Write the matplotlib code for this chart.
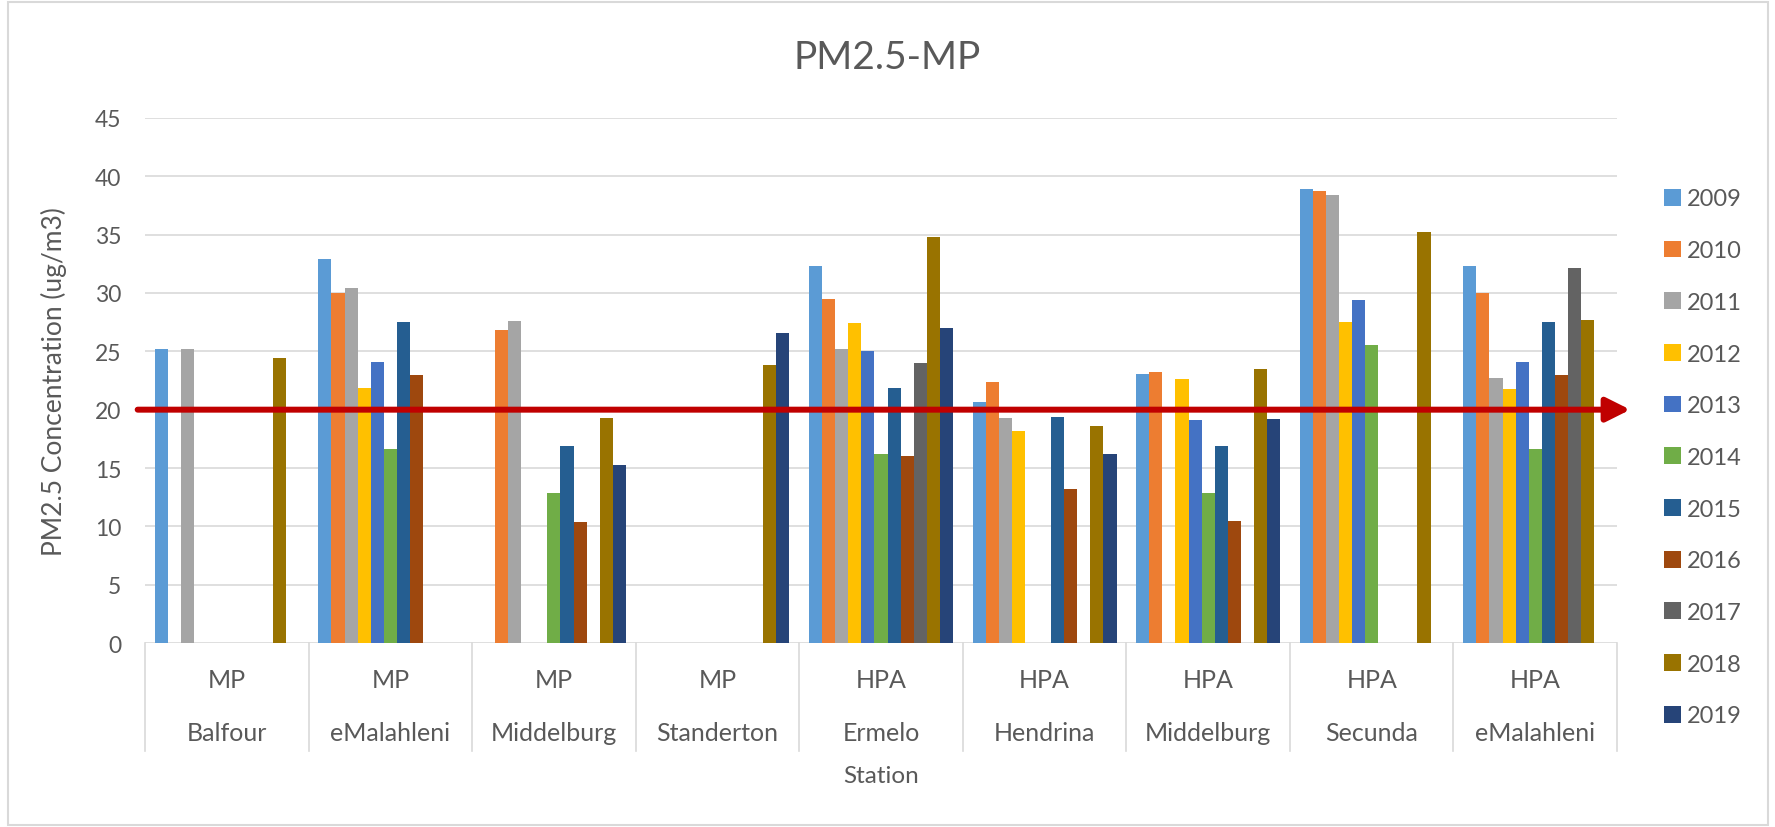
import numpy as np
import matplotlib
matplotlib.use('Agg')
from matplotlib import pyplot as plt
from matplotlib.patches import Patch, Rectangle

nan = np.nan

grupos = ['MP', 'MP', 'MP', 'MP', 'HPA', 'HPA', 'HPA', 'HPA', 'HPA']
estacoes = ['Balfour', 'eMalahleni', 'Middelburg', 'Standerton', 'Ermelo',
            'Hendrina', 'Middelburg', 'Secunda', 'eMalahleni']
anos = ['2009', '2010', '2011', '2012', '2013', '2014', '2015', '2016',
        '2017', '2018', '2019']

v2009 = [25.2, 32.9, nan, nan, 32.3, 20.7, 23.1, 38.9, 32.3]
v2010 = [nan, 30.0, 26.8, nan, 29.5, 22.4, 23.2, 38.7, 30.0]
v2011 = [25.2, 30.4, 27.6, nan, 25.2, 19.3, nan, 38.4, 22.7]
v2012 = [nan, 21.9, nan, nan, 27.4, 18.2, 22.6, 27.5, 21.8]
v2013 = [nan, 24.1, nan, nan, 25.0, nan, 19.1, 29.4, 24.1]
v2014 = [nan, 16.6, 12.9, nan, 16.2, nan, 12.9, 25.5, 16.6]
v2015 = [nan, 27.5, 16.9, nan, 21.9, 19.4, 16.9, nan, 27.5]
v2016 = [nan, 23.0, 10.4, nan, 16.0, 13.2, 10.5, nan, 23.0]
v2017 = [nan, nan, nan, nan, 24.0, nan, nan, nan, 32.1]
v2018 = [24.4, nan, 19.3, 23.8, 34.8, 18.6, 23.5, 35.2, 27.7]
v2019 = [nan, nan, 15.3, 26.6, 27.0, 16.2, 19.2, nan, nan]

limite = 20

series = [v2009, v2010, v2011, v2012, v2013, v2014, v2015, v2016,
          v2017, v2018, v2019]
cores = ['#5B9BD5', '#ED7D31', '#A5A5A5', '#FFC000', '#4472C4', '#70AD47',
         '#255E91', '#9E480E', '#636363', '#997300', '#264478']

cinza_txt = '#595959'
cinza_grade = '#D9D9D9'

plt.rcParams['font.family'] = ['Lato', 'DejaVu Sans']

fig = plt.figure(figsize=(17.75, 8.28), dpi=100)
ax = fig.add_axes([0.0817, 0.2222, 0.8293, 0.6341])

x = np.arange(len(estacoes))
larg = 0.08
n = len(series)
for i, (vals, cor) in enumerate(zip(series, cores)):
    desloc = (i - (n - 1) / 2) * larg
    ax.bar(x + desloc, vals, width=larg, color=cor, label=anos[i], zorder=2)

ax.set_ylim(0, 45)
ax.set_xlim(-0.5, len(estacoes) - 0.5)
ax.set_yticks(range(0, 46, 5))
ax.yaxis.grid(True, color=cinza_grade, linewidth=1.2, zorder=0)
ax.set_axisbelow(True)
for s in ax.spines.values():
    s.set_visible(False)
ax.set_xticks([])
ax.tick_params(axis='y', length=0, pad=17, labelsize=16.5, labelcolor=cinza_txt)

# eixo de categorias em dois niveis
trans = ax.get_xaxis_transform()
for b in np.arange(-0.5, len(estacoes), 1.0):
    ax.plot([b, b], [0, -0.206], transform=trans, color=cinza_grade,
            linewidth=1.2, clip_on=False)
for xi, g, e in zip(x, grupos, estacoes):
    ax.text(xi, -0.0686, g, transform=trans, ha='center', va='center',
            fontsize=18, color=cinza_txt)
    ax.text(xi, -0.1695, e, transform=trans, ha='center', va='center',
            fontsize=18, color=cinza_txt)

ax.text(0.5, -0.253, 'Station', transform=ax.transAxes, ha='center',
        va='center', fontsize=17.5, color=cinza_txt)
ax.set_ylabel('PM2.5 Concentration (ug/m3)', fontsize=19, color=cinza_txt)
ax.yaxis.set_label_coords(-0.053, 0.5)

fig.text(0.5, 0.930, 'PM2.5-MP', ha='center', va='center', fontsize=28,
         color=cinza_txt)

# seta do limite
ax.annotate('', xy=(1.009, limite), xytext=(-0.005, limite),
            xycoords=ax.get_yaxis_transform(),
            textcoords=ax.get_yaxis_transform(),
            arrowprops=dict(arrowstyle='-|>', color='#C00000', lw=4.3,
                            mutation_scale=36, shrinkA=0, shrinkB=0),
            zorder=5, annotation_clip=False)

handles = [Patch(facecolor=c, label=a) for c, a in zip(cores, anos)]
fig.legend(handles=handles, loc='center left', bbox_to_anchor=(0.9375, 0.4463),
           frameon=False, fontsize=17, labelspacing=1.3, handlelength=0.72,
           handleheight=0.72, handletextpad=0.25, borderpad=0, borderaxespad=0,
           labelcolor=cinza_txt)

fig.patches.append(Rectangle((0.0045, 0.003), 0.9915, 0.993, transform=fig.transFigure,
                             fill=False, edgecolor=cinza_grade, linewidth=1.5))

fig.savefig('out.png', dpi=100)
